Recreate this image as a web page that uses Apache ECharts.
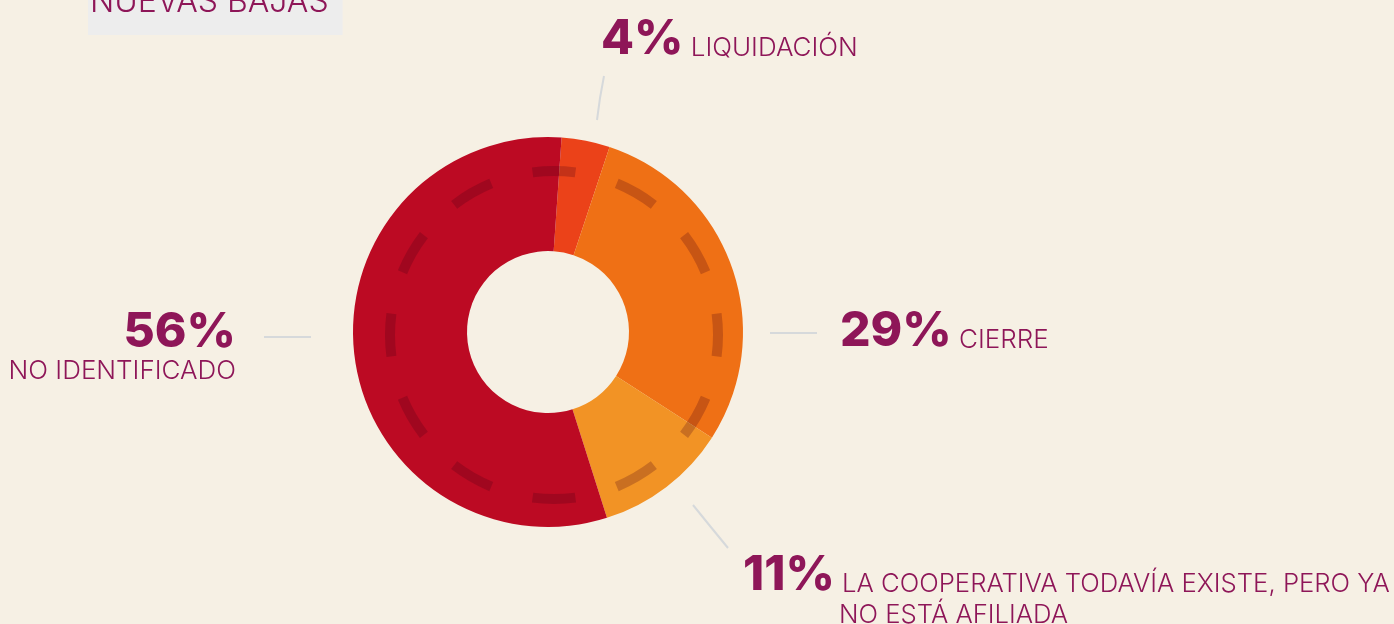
<!DOCTYPE html>
<html>
<head>
<meta charset="utf-8">
<script src="https://cdn.jsdelivr.net/npm/echarts@6/dist/echarts.min.js"></script>
<style>
  html, body { margin: 0; padding: 0; background: #f6f0e4; }
  #main { width: 1394px; height: 624px; }
</style>
</head>
<body>
<div id="main"></div>
<script>
// datos del gráfico
var categorias = ['LIQUIDACIÓN', 'CIERRE', 'LA COOPERATIVA TODAVÍA EXISTE, PERO YA\nNO ESTÁ AFILIADA', 'NO IDENTIFICADO']
var porcentajes = [4, 29, 11, 56]
var colores = ['#eb4219', '#ef7015', '#f29325', '#bc0a23']

var chart = echarts.init(document.getElementById('main'))

var purple = '#8e1658'
var lineGray = '#d6d9db'

// posición de cada etiqueta y de su línea
var layouts = [
  { x: 601, y: 64, align: 'left', line: [[597, 120], [600, 98], [604, 76]] },
  { x: 840, y: 356, align: 'left', line: [[770, 333], [793, 333], [817, 333]] },
  { x: 743, y: 630, align: 'left', line: [[693, 505], [710, 526], [728, 548]] },
  { x: 236, y: 387, align: 'right', line: [[264, 337], [288, 337], [311, 337]] }
]

function labelText(i) {
  var p = '{p|' + porcentajes[i] + '%}'
  if (i === 3) {
    return p + '\n{n|' + categorias[i] + '}'
  }
  var parts = categorias[i].split('\n')
  if (parts[1]) {
    return p + '{c| ' + parts[0] + '}\n{i|' + parts[1] + '}'
  }
  return p + '{n| ' + parts[0] + '}'
}

// anillo punteado decorativo (12 trazos)
var dashData = []
for (var k = 0; k < 12; k++) {
  dashData.push({ value: 15, itemStyle: { color: 'rgba(70,0,20,0.24)' } })
  dashData.push({ value: 15, itemStyle: { color: 'rgba(0,0,0,0)' } })
}

var option = {
  backgroundColor: '#f6f0e4',
  title: {
    text: 'NUEVAS BAJAS',
    left: 88,
    top: -14,
    backgroundColor: '#ededed',
    padding: [0, 14, 17, 2],
    textStyle: {
      color: purple,
      fontFamily: 'Inter',
      fontWeight: 300,
      fontSize: 32,
      lineHeight: 32
    }
  },
  series: [{
    type: 'pie',
    center: [548, 332],
    radius: [81, 195],
    startAngle: 86,
    clockwise: true,
    silent: true,
    animation: false,
    data: porcentajes.map(function (v, i) {
      return { name: categorias[i], value: v, itemStyle: { color: colores[i] } }
    }),
    label: {
      show: true,
      formatter: function (params) {
        return labelText(params.dataIndex)
      },
      rich: {
        p: {
          fontFamily: 'Inter',
          fontWeight: 800,
          fontSize: 48,
          lineHeight: 48,
          color: purple,
          verticalAlign: 'bottom'
        },
        n: {
          fontFamily: 'Inter',
          fontWeight: 300,
          fontSize: 26,
          lineHeight: 30,
          color: purple,
          verticalAlign: 'bottom',
          padding: [0, 0, 3, 0]
        },
        c: {
          fontFamily: 'Inter',
          fontWeight: 300,
          fontSize: 25.7,
          lineHeight: 30,
          color: purple,
          verticalAlign: 'bottom',
          padding: [0, 0, 3, 0]
        },
        i: {
          fontFamily: 'Inter',
          fontWeight: 300,
          fontSize: 25.7,
          lineHeight: 30,
          color: purple,
          padding: [0, 0, 0, 96]
        }
      }
    },
    labelLine: {
      show: true,
      lineStyle: { color: lineGray, width: 2 }
    },
    labelLayout: function (params) {
      var l = layouts[params.dataIndex]
      return {
        x: l.x,
        y: l.y,
        align: l.align,
        verticalAlign: 'bottom',
        labelLinePoints: l.line
      }
    }
  }, {
    type: 'pie',
    center: [554, 335],
    radius: [159, 169],
    startAngle: 97.5,
    silent: true,
    animation: false,
    z: 3,
    label: { show: false },
    labelLine: { show: false },
    data: dashData
  }]
}

chart.setOption(option)
</script>
</body>
</html>
